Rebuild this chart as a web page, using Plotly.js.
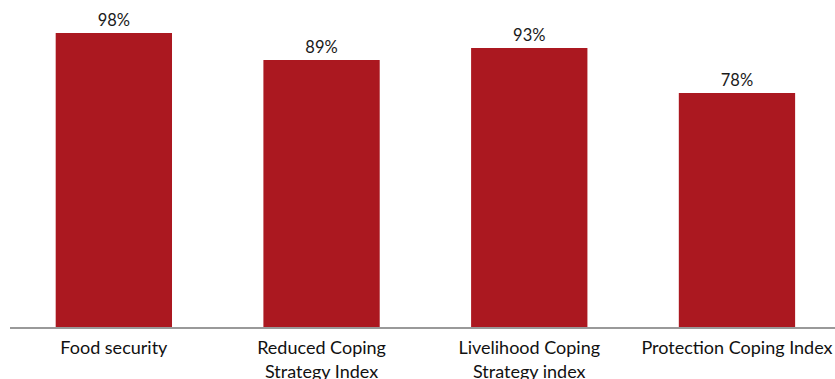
<!DOCTYPE html>
<html><head><meta charset="utf-8">
<script src="https://cdn.plot.ly/plotly-3.0.1.min.js"></script>
<style>html,body{margin:0;padding:0;background:#fff}</style>
</head><body><div id="chart" style="width:835px;height:379px"></div>
<script>
const categories = ["Food security", "Reduced Coping<br>Strategy Index", "Livelihood Coping<br>Strategy index", "Protection Coping Index"];
const values = [98, 89, 93, 78];
const valueLabels = ["98%", "89%", "93%", "78%"];

Plotly.newPlot("chart", [{
  type: "bar",
  x: categories,
  y: values,
  text: valueLabels,
  textposition: "outside",
  cliponaxis: false,
  textfont: {family: "Lato, 'Open Sans', sans-serif", size: 16.5, color: "#1a1a1a"},
  marker: {color: "#ab1820"},
  hoverinfo: "none"
}], {
  width: 835, height: 379,
  margin: {l: 10, r: 0, t: 27, b: 52},
  bargap: 0.44,
  showlegend: false,
  paper_bgcolor: "#fff", plot_bgcolor: "#fff",
  xaxis: {
    range: [-0.5, 3.472],
    showline: true, linecolor: "#999", linewidth: 1.5,
    ticks: "", showgrid: false, zeroline: false,
    ticklabelstandoff: 4,
    tickfont: {family: "Lato, 'Open Sans', sans-serif", size: 18, color: "#111"}
  },
  yaxis: {range: [0, 100], visible: false, showgrid: false, zeroline: false}
}, {displayModeBar: false, staticPlot: true});
</script></body></html>
